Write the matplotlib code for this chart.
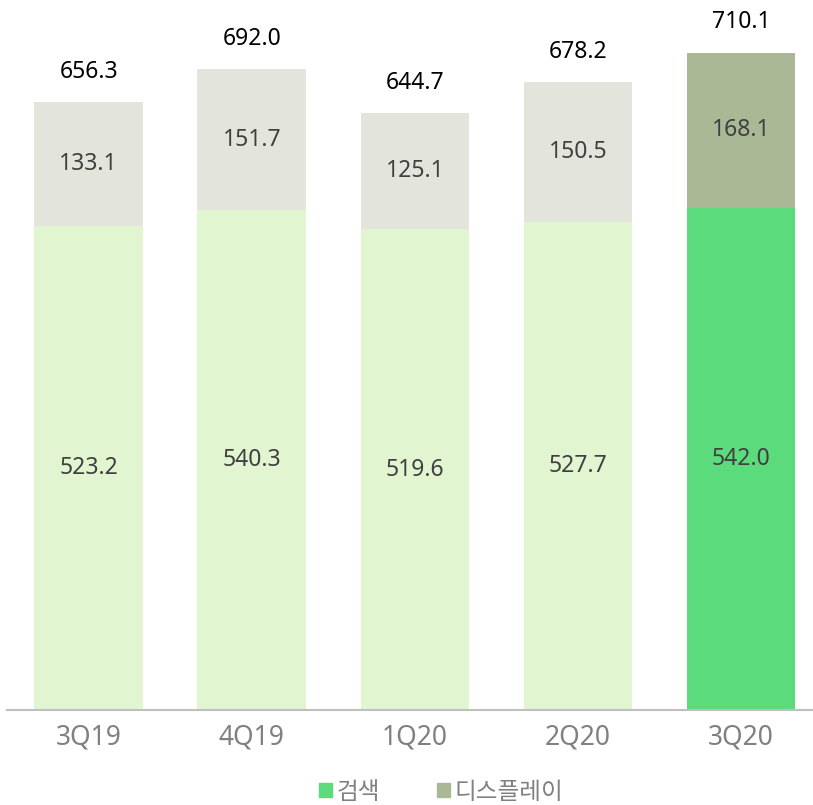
import matplotlib
matplotlib.use('Agg')
import matplotlib.pyplot as plt
from matplotlib.patches import Patch
import numpy as np

plt.rcParams['font.family'] = ['Noto Sans', 'Noto Sans CJK KR', 'DejaVu Sans']

quarters = ["3Q19", "4Q19", "1Q20", "2Q20", "3Q20"]
search = [523.2, 540.3, 519.6, 527.7, 542.0]
display = [133.1, 151.7, 125.1, 150.5, 168.1]
totals = [656.3, 692.0, 644.7, 678.2, 710.1]

search_colors = ["#e1f5d0"] * 4 + ["#5bdb7c"]
display_colors = ["#e3e5dc"] * 4 + ["#abb896"]

fig = plt.figure(figsize=(8.13, 8.05), dpi=100)
ax = fig.add_axes([7 / 813, 95 / 805, 806 / 813, 710 / 805])

x = np.arange(len(quarters))
w = 0.665
ax.bar(x, search, w, color=search_colors)
ax.bar(x, display, w, bottom=search, color=display_colors)

for i in range(len(quarters)):
    ax.text(x[i], search[i] / 2, f"{search[i]:.1f}", ha='center', va='center',
            fontsize=16.5, color='#404040')
    ax.text(x[i], search[i] + display[i] / 2, f"{display[i]:.1f}", ha='center', va='center',
            fontsize=16.5, color='#404040')
    ax.annotate(f"{totals[i]:.1f}", (x[i], search[i] + display[i]), xytext=(0, 22),
                textcoords='offset points', ha='center', va='center',
                fontsize=16.5, color='black')

ax.set_xlim(-0.5, 4.44)
ax.set_ylim(0, 767)
ax.set_xticks(x)
ax.set_xticklabels(quarters, fontsize=19, color='#808080')
ax.tick_params(axis='x', length=0, pad=10)
ax.set_yticks([])
for s in ['top', 'right', 'left']:
    ax.spines[s].set_visible(False)
ax.spines['bottom'].set_color('#bfbfbf')
ax.spines['bottom'].set_linewidth(1.5)

handles = [Patch(color="#5bdb7c", label="검색"), Patch(color="#abb896", label="디스플레이")]
leg = fig.legend(handles=handles, loc='center', bbox_to_anchor=(0.543, 13 / 805), ncol=2,
                 frameon=False, handlelength=0.55, handleheight=0.55,
                 handletextpad=0.2, columnspacing=2.4,
                 prop={'family': ['Noto Sans CJK KR'], 'size': 17})
for t in leg.get_texts():
    t.set_color('#808080')

fig.savefig('out.png', dpi=100)
